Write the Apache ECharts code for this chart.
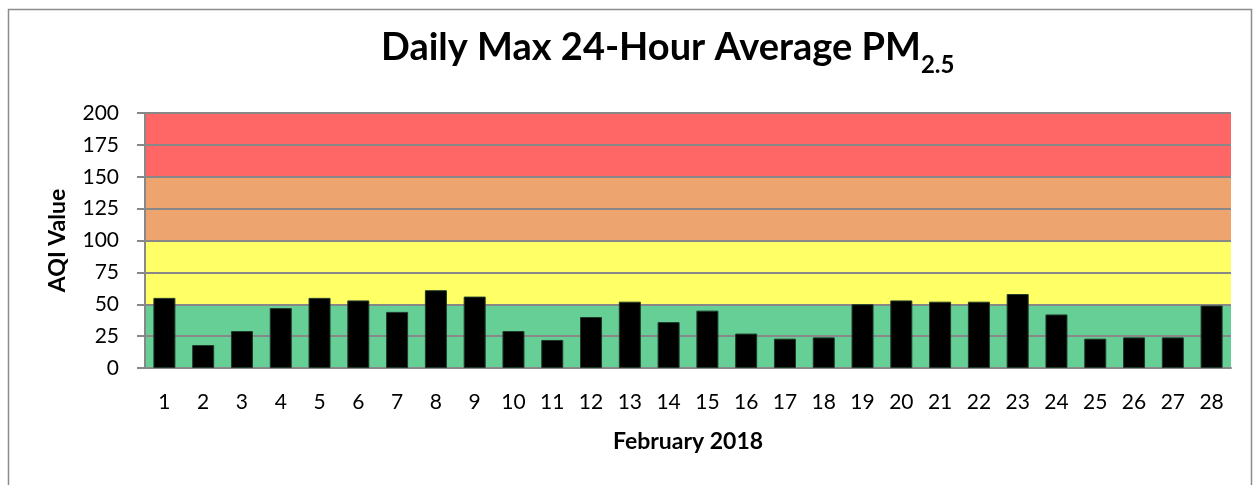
<!DOCTYPE html>
<html>
<head>
<meta charset="utf-8">
<script src="https://cdn.jsdelivr.net/npm/echarts@6/dist/echarts.min.js"></script>
<style>
html,body{margin:0;padding:0;background:#fff;}
#chart{width:1254px;height:485px;}
</style>
</head>
<body>
<div id="chart"></div>
<script>
const days = ['1','2','3','4','5','6','7','8','9','10','11','12','13','14','15','16','17','18','19','20','21','22','23','24','25','26','27','28'];
const aqiValues = [55,18,29,47,55,53,44,61,56,29,22,40,52,36,45,27,23,24,50,53,52,52,58,42,23,24,24,49];
const bandColors = ['#66CF96','#66CF96','#FFFF66','#FFFF66','#EEA46E','#EEA46E','#FF6666','#FF6666'];
const FONT = 'Lato';

const chart = echarts.init(document.getElementById('chart'));
chart.setOption({
  animation: false,
  backgroundColor: '#fff',
  graphic: [{
    type: 'rect', left: 6, top: 7,
    shape: {width: 1243, height: 490},
    style: {fill: 'none', stroke: '#8c8c8c', lineWidth: 1.5},
    z: -10
  }],
  title: {
    left: 376, top: 16,
    text: '{m|Daily Max 24-Hour Average PM}{s|2.5}',
    textStyle: {
      rich: {
        m: {fontFamily: FONT, fontWeight: 'bold', fontSize: 38, color: '#000', verticalAlign: 'bottom', lineHeight: 46},
        s: {fontFamily: FONT, fontWeight: 'bold', fontSize: 24, color: '#000', verticalAlign: 'bottom', lineHeight: 34, padding: [0,0,-10,0]}
      }
    }
  },
  grid: {left: 145, right: 23, top: 113, bottom: 117},
  xAxis: {
    type: 'category',
    data: days,
    name: 'February 2018',
    nameLocation: 'middle',
    nameGap: 62,
    nameTextStyle: {fontFamily: FONT, fontWeight: 'bold', fontSize: 23, color: '#000'},
    axisLine: {lineStyle: {color: '#888', width: 2}},
    axisTick: {show: false},
    axisLabel: {fontFamily: FONT, fontSize: 21, color: '#000', margin: 24, interval: 0}
  },
  yAxis: {
    type: 'value',
    min: 0, max: 200, interval: 25,
    name: 'AQI Value',
    nameLocation: 'middle',
    nameGap: 76,
    nameTextStyle: {fontFamily: FONT, fontWeight: 'bold', fontSize: 23, color: '#000'},
    axisLine: {show: true, lineStyle: {color: '#888', width: 2}},
    axisTick: {show: true, length: 8, lineStyle: {color: '#888', width: 2}},
    axisLabel: {fontFamily: FONT, fontSize: 21, color: '#000', margin: 26},
    splitLine: {show: true, lineStyle: {color: '#888', width: 2}},
    splitArea: {show: true, areaStyle: {color: bandColors, opacity: 1}}
  },
  series: [{
    type: 'bar',
    data: aqiValues,
    barWidth: 22,
    itemStyle: {color: '#000', borderColor: '#1f3a2a', borderWidth: 1},
    z: 3
  }]
});
</script>
</body>
</html>
